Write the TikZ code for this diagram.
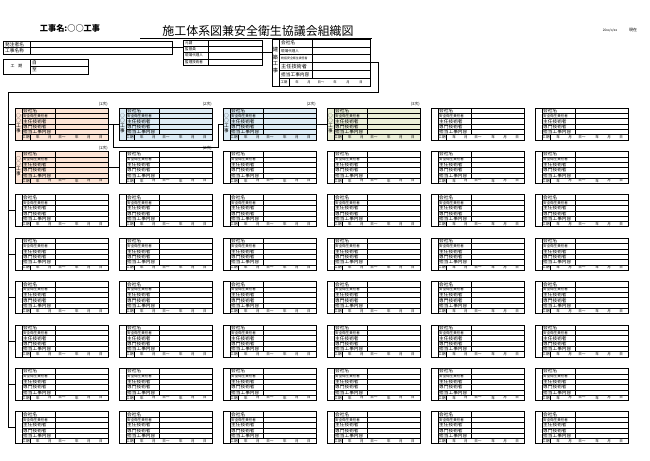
\documentclass[tikz,border=0pt]{standalone}
\usepackage{fontspec}
\newfontfamily\jp{Noto Sans CJK JP}
\usetikzlibrary{positioning,calc}
\definecolor{peach}{HTML}{FCE4D6}
\definecolor{sky}{HTML}{DCEBF5}
\definecolor{olive}{HTML}{EBEFD8}
\tikzset{
  frame/.style={draw,line width=0.7pt},
  rule/.style={draw,line width=0.3pt},
  lbl/.style={inner sep=0pt,anchor=west,font=\jp\fontsize{4}{4}\selectfont},
  small lbl/.style={lbl,font=\jp\fontsize{3}{3}\selectfont},
  cell/.style={inner sep=0pt,font=\jp\fontsize{3.4}{3.4}\selectfont},
  link/.style={line width=0.6pt},
}
\begin{document}
\begin{tikzpicture}[x=0.3mm,y=-0.3mm]
\useasboundingbox (0,0) rectangle (650,460);
% heading
\node[font=\jp\bfseries\fontsize{7}{7}\selectfont] (kojimei) at (70,28) {工事名:○○工事};
\node[font=\jp\fontsize{10.2}{10.2}\selectfont] (title) at (258,31) {施工体系図兼安全衛生協議会組織図};
\draw[line width=0.6pt] (140,38.5) -- (372,38.5);
\node[cell,font=\jp\fontsize{2.8}{2.8}\selectfont] (date) at (610,30) {20xx/x/xx};
\node[cell] (genzai) at (633,30) {現在};
% orderer
\draw[frame] (3,41) rectangle (172,54);
\draw[rule] (3,47.5) -- (172,47.5) (30,41) -- (30,54);
\node[lbl] (hatchu) at (5,44.25) {発注者名};
\node[lbl] (meisho) at (5,50.75) {工事名称};
\coordinate (hatchu-e) at (172,47.5);
% term
\draw[frame] (3,59) rectangle (88,74);
\draw[rule] (30,59) -- (30,74) (30,66.5) -- (88,66.5);
\node[cell] (kouki) at (16.5,66.5) {工\quad 期};
\node[lbl] (ji) at (32,62.75) {自};
\node[lbl] (itaru) at (32,70.25) {至};
% supervisors
\draw[frame] (183,40) rectangle (262,65);
\foreach \k in {1,2,3} \draw[rule] (183,{40+6.25*\k}) -- (262,{40+6.25*\k});
\draw[rule] (208,40) -- (208,65);
\foreach \t [count=\k] in {元請,監督員,現場代理人,監理技術者}
  \node[small lbl] (kan-\k) at (185,{40+6.25*\k-3.125}) {\t};
\coordinate (kantoku-w) at (183,47.5);
\coordinate (kantoku-e) at (262,52.5);
% prime contractor
\draw[frame] (272,39) rectangle (370,86);
\foreach \k in {1,...,5} \draw[rule] (279,{39+7.833*\k}) -- (370,{39+7.833*\k});
\draw[rule] (279,39) -- (279,86) (312,39) -- (312,78.17) (289,78.17) -- (289,86);
\node[lbl] (m-1) at (281,42.9) {会社名};
\node[small lbl] (m-2) at (281,50.75) {現場代理人};
\node[lbl,font=\jp\fontsize{2.5}{2.5}\selectfont] (m-3) at (281,58.6) {統括安全衛生責任者};
\node[lbl,font=\jp\fontsize{4.4}{4.4}\selectfont] (m-4) at (281,66.4) {主任技術者};
\node[lbl] (m-5) at (281,74.25) {担当工事内容};
\node[cell,font=\jp\fontsize{2.8}{2.8}\selectfont] (m-6) at (284,82.1) {工期};
\foreach \t/\xx in {年/297,月/309,日～/321,年/335,月/348,日/361}
  \node[cell,font=\jp\fontsize{2.8}{2.8}\selectfont] at (\xx,82.1) {\t};
\foreach \t [count=\k] in {建,築,工,事}
  \node[cell,font=\jp\fontsize{4.5}{4.5}\selectfont] at (275.5,{43+7*\k}) {\t};
\coordinate (main-w) at (272,52.5);
\coordinate (main-e) at (370,62);
\draw[link] (hatchu-e) -- (kantoku-w);
\draw[link] (kantoku-e) -- (main-w);
% colored boxes
\foreach \r/\c/\col in {1/1/peach,2/1/peach,1/2/sky,1/3/sky,1/4/olive}{
  \pgfmathsetmacro\bx{15+104*(\c-1)}
  \pgfmathsetmacro\by{108+43.4*(\r-1)}
  \fill[\col] (\bx,\by) rectangle ++(93,32);
}
% subcontractor boxes
\foreach \r in {1,...,8}{
  \foreach \c in {1,...,6}{
    \pgfmathsetmacro\bx{15+104*(\c-1)}
    \pgfmathsetmacro\by{108+43.4*(\r-1)}
    \begin{scope}[shift={(\bx,\by)}]
      \draw[frame] (0,0) rectangle (93,32);
      \foreach \k in {1,...,5} \draw[rule] (7,{5.333*\k}) -- (93,{5.333*\k});
      \draw[rule] (7,0) -- (7,32) (40,0) -- (40,26.67) (15,26.67) -- (15,32);
      \node[lbl] at (8,2.67) {会社名};
      \node[small lbl] at (8,8) {安全衛生責任者};
      \node[lbl] at (8,13.33) {主任技術者};
      \node[lbl] at (8,18.67) {専門技術者};
      \node[lbl] at (8,24) {担当工事内容};
      \node[cell,font=\jp\fontsize{3}{3}\selectfont] at (11,29.33) {工期};
      \foreach \t/\xx in {年/23,月/35,日～/47,年/62,月/74,日/86}
        \node[cell,font=\jp\fontsize{3}{3}\selectfont] at (\xx,29.33) {\t};
      \coordinate (box-\r-\c-w) at (0,16);
      \coordinate (box-\r-\c-e) at (93,16);
    \end{scope}
  }
}
% vertical labels and tiers
\foreach \r/\c/\tier in {1/1/1次,2/1/1次,1/2/2次,1/3/2次,1/4/3次,2/2/2次}{
  \pgfmathsetmacro\bx{15+104*(\c-1)}
  \pgfmathsetmacro\by{108+43.4*(\r-1)}
  \node[cell,anchor=south east] at (\bx+93,\by-1) {(\tier)};
}
\foreach \r/\c in {1/1,2/1,1/2,1/3,1/4}{
  \pgfmathsetmacro\bx{15+104*(\c-1)}
  \pgfmathsetmacro\by{108+43.4*(\r-1)}
  \foreach \t [count=\k] in {○,○,工,事}
    \node[cell,font=\jp\fontsize{4}{4}\selectfont] at (\bx+3.5,{\by+2.5+5*\k}) {\t};
}
% connectors
\coordinate (bend) at (378,92);
\coordinate (trunk-top) at (8,92);
\draw[link] (main-e) -| (bend) -- (trunk-top) |- (box-8-1-w);
\foreach \r in {1,...,7} \draw[link] (trunk-top |- box-\r-1-w) -- (box-\r-1-w);
\draw[link] (box-1-1-e) -- (box-1-2-w);
\coordinate (drop) at ($(box-1-1-e)+(5,0)$);
\draw[link] (drop) |- ($(box-1-3-w)+(-5,23)$) |- (box-1-3-w);
\draw[link] (box-1-3-e) -- (box-1-4-w);
\draw[link] (box-2-1-e) -- (box-2-2-w);
\end{tikzpicture}
\end{document}
